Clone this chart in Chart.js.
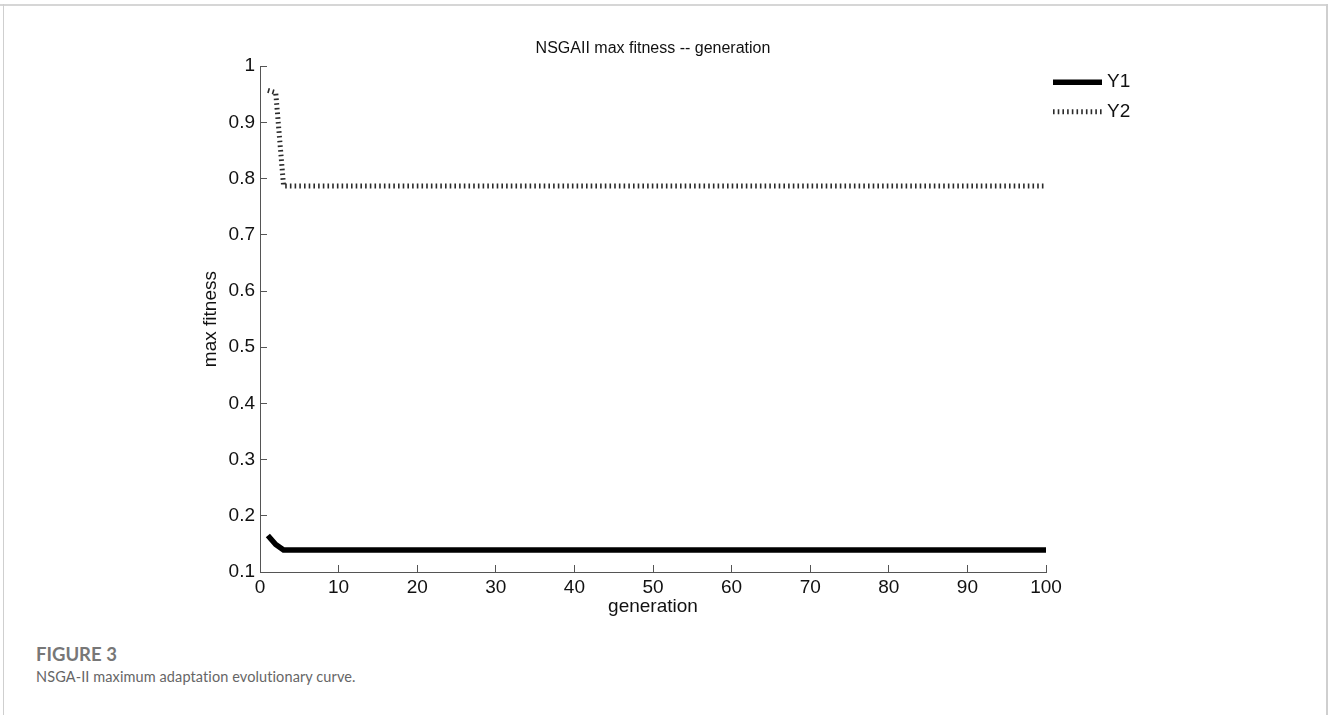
<!DOCTYPE html>
<html>
<head>
<meta charset="utf-8">
<script src="https://cdn.jsdelivr.net/npm/chart.js@4.4.1/dist/chart.umd.min.js"></script>
<style>
    html, body { margin: 0; padding: 0; background: #fff; }
    #page { position: relative; width: 1328px; height: 715px; overflow: hidden; }
    #frame-top { position: absolute; left: 0; top: 4px; width: 1328px; height: 2px; background: #d6d6d6; }
    #frame-left { position: absolute; left: 3px; top: 4px; width: 1px; height: 711px; background: #cfcfcf; }
    #frame-right { position: absolute; left: 1326px; top: 4px; width: 2px; height: 711px; background: #cfcfcf; }
    #chart-box { position: absolute; left: 0; top: 0; width: 1328px; height: 640px; }
    .caption { position: absolute; left: 36px; font-family: Lato, 'Open Sans', sans-serif; color: #666; white-space: nowrap; line-height: 1; }
    #fig-label { top: 645px; font-size: 18.5px; font-weight: 700; color: #777; }
    #fig-text { top: 670px; font-size: 14.5px; letter-spacing: 0.1px; }
</style>
</head>
<body>
<div id="page">
    <div id="frame-top"></div>
    <div id="frame-left"></div>
    <div id="frame-right"></div>
    <div id="chart-box"><canvas id="fitness-chart" width="1328" height="640"></canvas></div>
    <div class="caption" id="fig-label">FIGURE 3</div>
    <div class="caption" id="fig-text">NSGA-II maximum adaptation evolutionary curve.</div>
</div>
<script>
const generations = [
    1, 2, 3, 4, 5, 6, 7, 8, 9, 10,
    11, 12, 13, 14, 15, 16, 17, 18, 19, 20,
    21, 22, 23, 24, 25, 26, 27, 28, 29, 30,
    31, 32, 33, 34, 35, 36, 37, 38, 39, 40,
    41, 42, 43, 44, 45, 46, 47, 48, 49, 50,
    51, 52, 53, 54, 55, 56, 57, 58, 59, 60,
    61, 62, 63, 64, 65, 66, 67, 68, 69, 70,
    71, 72, 73, 74, 75, 76, 77, 78, 79, 80,
    81, 82, 83, 84, 85, 86, 87, 88, 89, 90,
    91, 92, 93, 94, 95, 96, 97, 98, 99, 100
];

// max fitness of objective Y1 per generation
const y1Values = [
    0.165, 0.149, 0.139, 0.139, 0.139, 0.139, 0.139, 0.139, 0.139, 0.139,
    0.139, 0.139, 0.139, 0.139, 0.139, 0.139, 0.139, 0.139, 0.139, 0.139,
    0.139, 0.139, 0.139, 0.139, 0.139, 0.139, 0.139, 0.139, 0.139, 0.139,
    0.139, 0.139, 0.139, 0.139, 0.139, 0.139, 0.139, 0.139, 0.139, 0.139,
    0.139, 0.139, 0.139, 0.139, 0.139, 0.139, 0.139, 0.139, 0.139, 0.139,
    0.139, 0.139, 0.139, 0.139, 0.139, 0.139, 0.139, 0.139, 0.139, 0.139,
    0.139, 0.139, 0.139, 0.139, 0.139, 0.139, 0.139, 0.139, 0.139, 0.139,
    0.139, 0.139, 0.139, 0.139, 0.139, 0.139, 0.139, 0.139, 0.139, 0.139,
    0.139, 0.139, 0.139, 0.139, 0.139, 0.139, 0.139, 0.139, 0.139, 0.139,
    0.139, 0.139, 0.139, 0.139, 0.139, 0.139, 0.139, 0.139, 0.139, 0.139
];

// max fitness of objective Y2 per generation
const y2Values = [
    0.957, 0.953, 0.787, 0.787, 0.787, 0.787, 0.787, 0.787, 0.787, 0.787,
    0.787, 0.787, 0.787, 0.787, 0.787, 0.787, 0.787, 0.787, 0.787, 0.787,
    0.787, 0.787, 0.787, 0.787, 0.787, 0.787, 0.787, 0.787, 0.787, 0.787,
    0.787, 0.787, 0.787, 0.787, 0.787, 0.787, 0.787, 0.787, 0.787, 0.787,
    0.787, 0.787, 0.787, 0.787, 0.787, 0.787, 0.787, 0.787, 0.787, 0.787,
    0.787, 0.787, 0.787, 0.787, 0.787, 0.787, 0.787, 0.787, 0.787, 0.787,
    0.787, 0.787, 0.787, 0.787, 0.787, 0.787, 0.787, 0.787, 0.787, 0.787,
    0.787, 0.787, 0.787, 0.787, 0.787, 0.787, 0.787, 0.787, 0.787, 0.787,
    0.787, 0.787, 0.787, 0.787, 0.787, 0.787, 0.787, 0.787, 0.787, 0.787,
    0.787, 0.787, 0.787, 0.787, 0.787, 0.787, 0.787, 0.787, 0.787, 0.787
];

const seriesLabels = ['Y1', 'Y2'];
const chartTitle = 'NSGAII max fitness -- generation';
const xTitle = 'generation';
const yTitle = 'max fitness';

const FONT = "'Liberation Sans', Arial, Helvetica, sans-serif";
const AXIS_COLOR = '#555';
const TEXT_COLOR = '#111';

const toPoints = (values) => generations.map((g, i) => ({ x: g, y: values[i] }));

// matlab style legend, drawn just right of the axes
const sideLegend = {
    id: 'sideLegend',
    afterDraw(chart) {
        const { ctx, chartArea } = chart;
        ctx.save();
        chart.data.datasets.forEach((ds, i) => {
            const y = chartArea.top + 16 + i * 29.5;
            ctx.beginPath();
            ctx.lineWidth = ds.borderWidth;
            ctx.strokeStyle = ds.borderColor;
            ctx.lineCap = 'butt';
            ctx.setLineDash(ds.borderDash || []);
            ctx.moveTo(chartArea.right + 7, y);
            ctx.lineTo(chartArea.right + 56, y);
            ctx.stroke();
            ctx.setLineDash([]);
            ctx.fillStyle = TEXT_COLOR;
            ctx.font = `19px ${FONT}`;
            ctx.textAlign = 'left';
            ctx.textBaseline = 'middle';
            ctx.fillText(ds.label, chartArea.right + 61, y);
        });
        ctx.restore();
    }
};

new Chart(document.getElementById('fitness-chart'), {
    type: 'line',
    data: {
        datasets: [
            {
                label: seriesLabels[0],
                data: toPoints(y1Values),
                borderColor: '#000',
                borderWidth: 5.5,
                borderCapStyle: 'butt',
                pointRadius: 0,
                tension: 0,
                fill: false,
            },
            {
                label: seriesLabels[1],
                data: toPoints(y2Values),
                borderColor: '#2a2a2a',
                borderWidth: 5,
                borderDash: [1.6, 3.1],
                borderCapStyle: 'butt',
                pointRadius: 0,
                tension: 0,
                fill: false,
            }
        ]
    },
    options: {
        responsive: false,
        animation: false,
        layout: { padding: { left: 200, right: 282, top: 0, bottom: 24 } },
        scales: {
            x: {
                type: 'linear',
                min: 0,
                max: 100,
                afterFit: (scale) => { scale.height = 44; },
                ticks: {
                    stepSize: 10,
                    padding: 11,
                    color: TEXT_COLOR,
                    font: { family: FONT, size: 19 },
                    maxRotation: 0,
                },
                grid: { drawOnChartArea: false, drawTicks: true, tickLength: -7, color: AXIS_COLOR },
                border: { color: AXIS_COLOR, width: 1 },
                title: {
                    display: true,
                    text: xTitle,
                    color: TEXT_COLOR,
                    font: { family: FONT, size: 19, lineHeight: 1 },
                    padding: 0,
                }
            },
            y: {
                type: 'linear',
                min: 0.1,
                max: 1,
                afterFit: (scale) => { scale.width = 60; },
                ticks: {
                    stepSize: 0.1,
                    padding: 12,
                    color: TEXT_COLOR,
                    font: { family: FONT, size: 19 },
                    callback: (v) => String(Number(v.toFixed(1))),
                },
                grid: { drawOnChartArea: false, drawTicks: true, tickLength: -7, color: AXIS_COLOR },
                border: { color: AXIS_COLOR, width: 1 },
                title: {
                    display: true,
                    text: yTitle,
                    color: TEXT_COLOR,
                    font: { family: FONT, size: 19, lineHeight: 1 },
                    padding: { top: 1, bottom: 0 },
                }
            }
        },
        plugins: {
            legend: { display: false },
            tooltip: { enabled: false },
            title: {
                display: true,
                text: chartTitle,
                fullSize: false,
                color: TEXT_COLOR,
                font: { family: FONT, size: 16, weight: 'normal', lineHeight: 1.2 },
                padding: { top: 39, bottom: 8 },
            }
        }
    },
    plugins: [sideLegend]
});
</script>
</body>
</html>
